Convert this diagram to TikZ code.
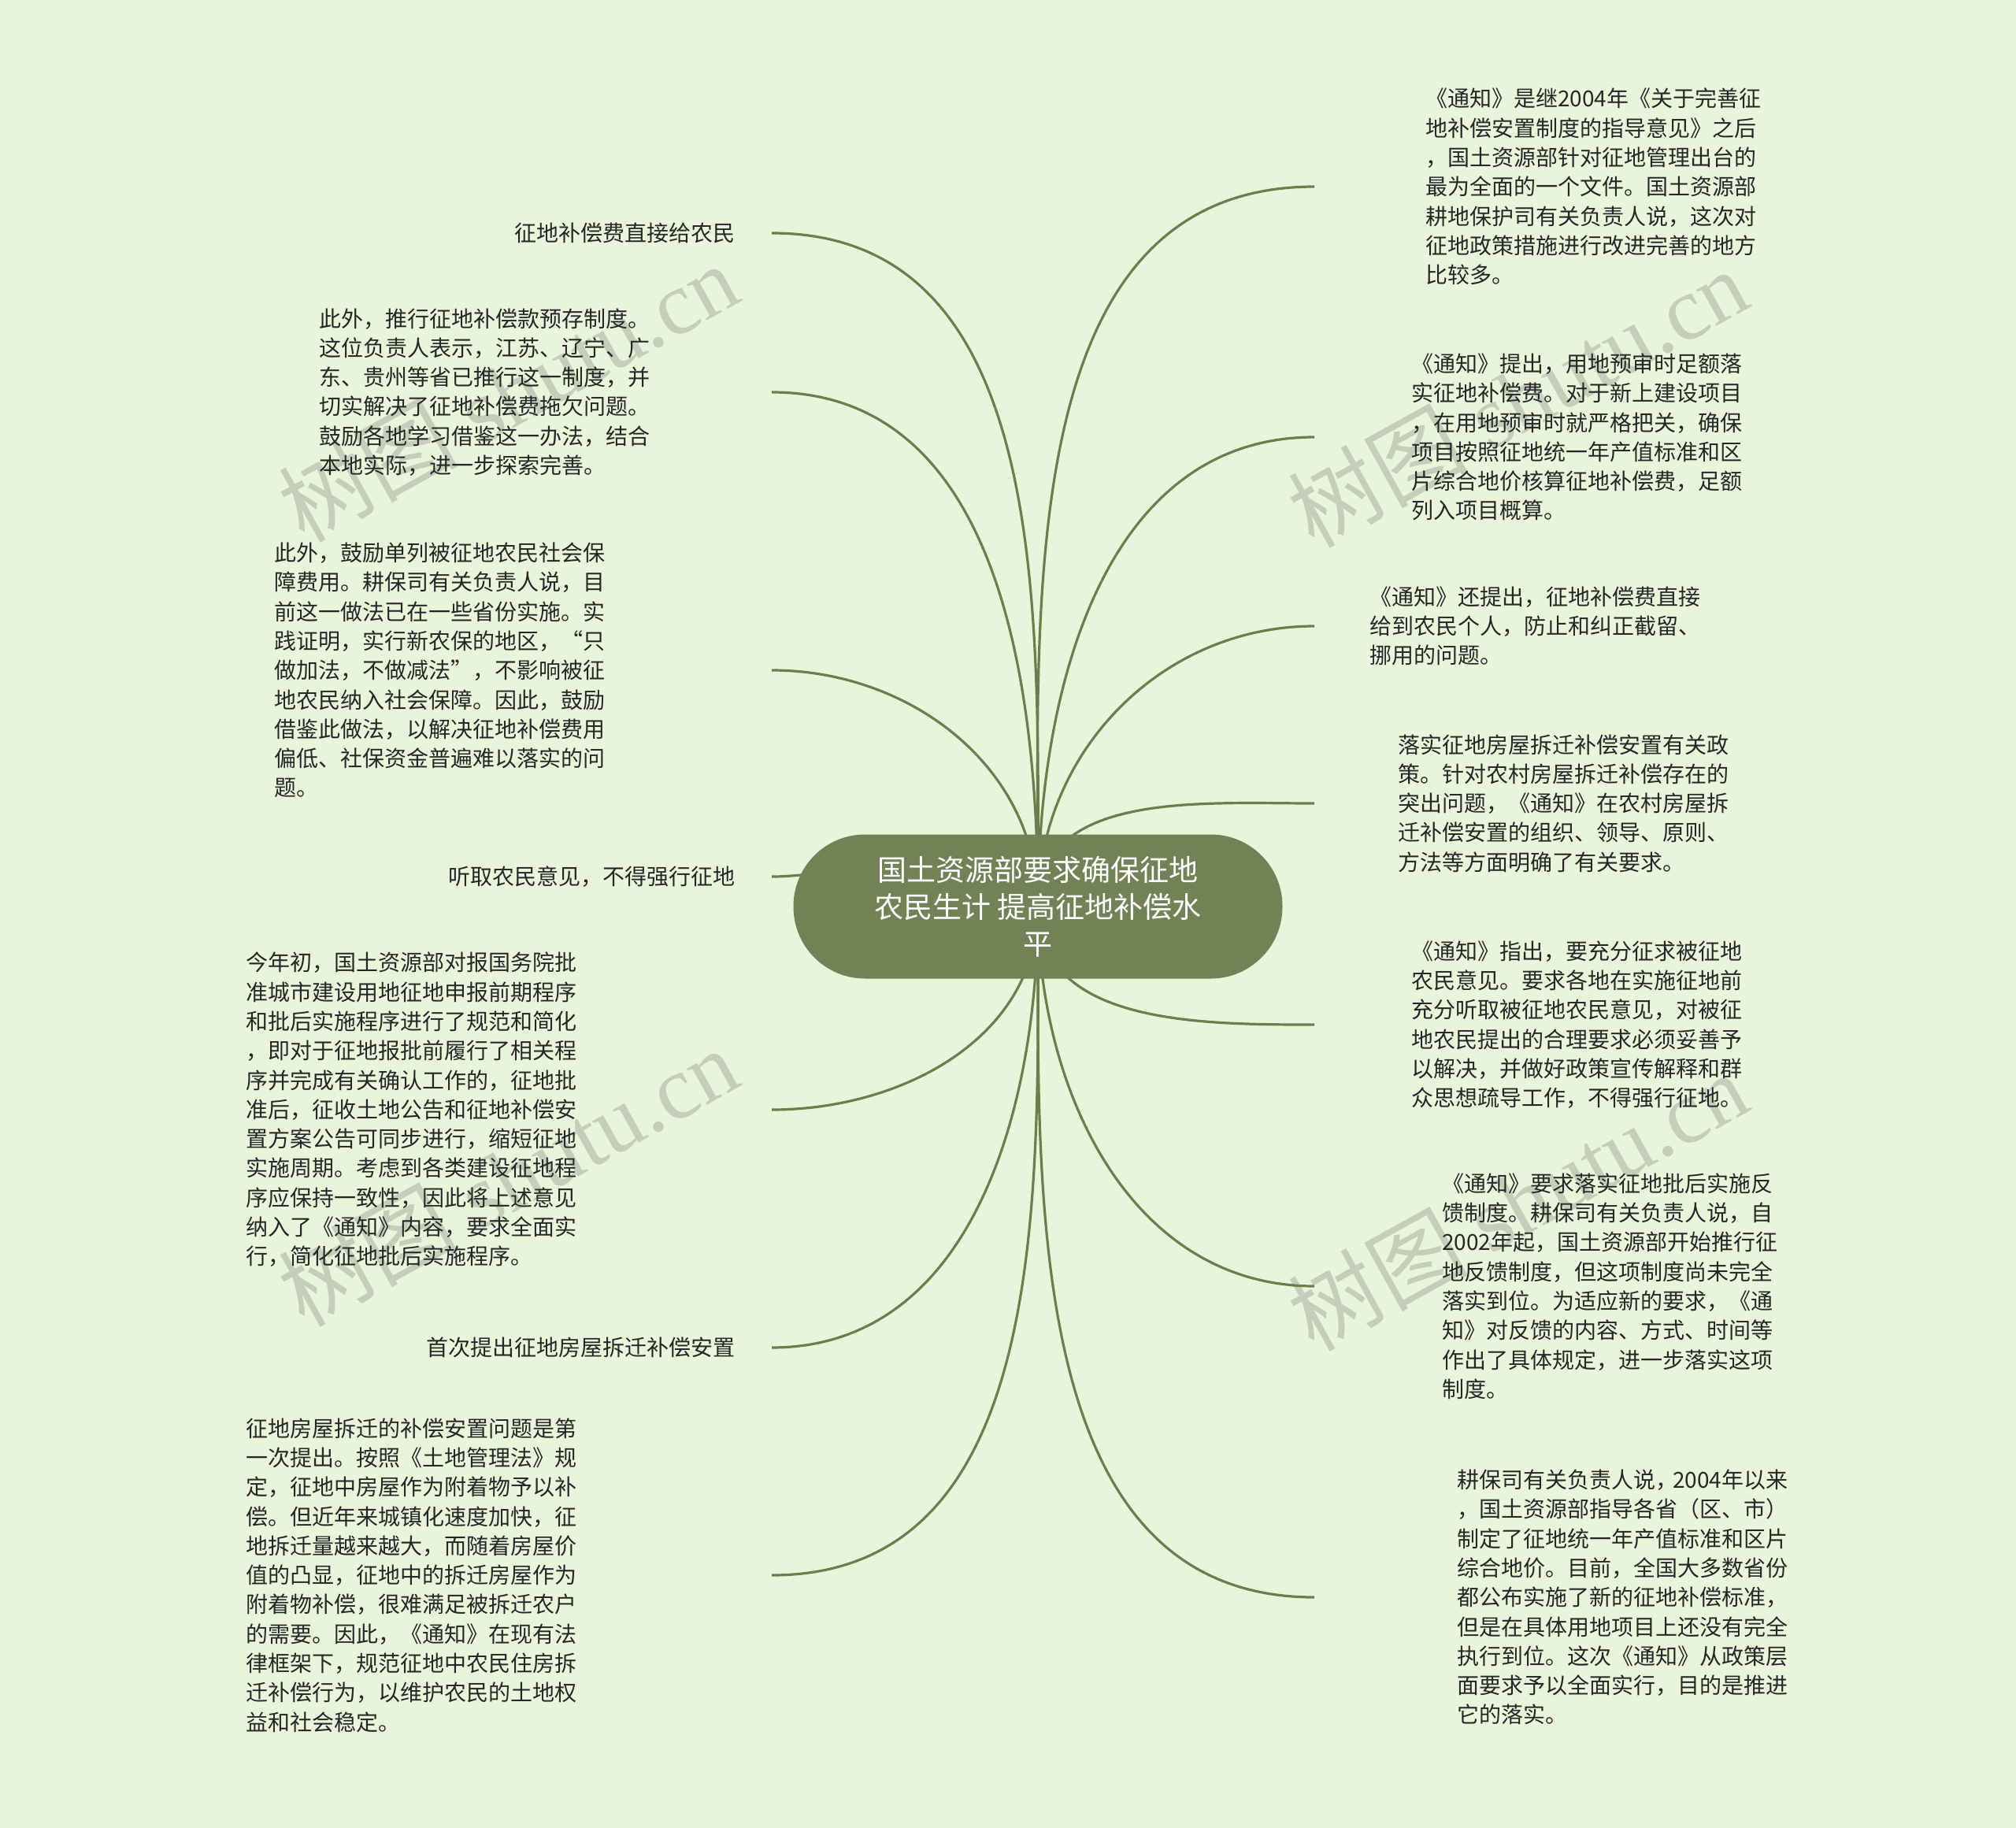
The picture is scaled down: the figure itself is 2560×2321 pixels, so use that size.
\documentclass[tikz,border=0pt]{standalone}
\usepackage{fontspec}
\usepackage{tikz}
\usetikzlibrary{positioning}
\usetikzlibrary{backgrounds}
\newfontfamily\cjk{Noto Sans CJK SC}
\newfontfamily\wmlatin{Liberation Serif}
\definecolor{paper}{RGB}{233,245,219}
\definecolor{olive}{RGB}{115,130,86}
\definecolor{twig}{RGB}{110,125,78}
\definecolor{ink}{RGB}{38,38,38}
\definecolor{wmgray}{RGB}{196,206,186}
\tikzset{
  % common styles for the map
  branch/.style={draw=twig, line width=3.2pt},
  leaf/.style={inner sep=0pt, text=ink, align=left, font=\cjk\fontsize{28}{37.3}\selectfont},
  wmark/.style={text=wmgray, rotate=29, inner sep=0pt, font=\wmlatin\fontsize{114}{114}\selectfont}
}
\begin{document}
\begin{tikzpicture}[x=1pt, y=-1pt]
    % Define styles
    \tikzstyle{root} = [rectangle, fill=olive, rounded corners=91pt, minimum width=621pt, minimum height=183pt, text=white, align=center, font=\cjk\fontsize{37}{47}\selectfont]
    \tikzstyle{leftleaf} = [leaf, anchor=east]
    \tikzstyle{blockleaf} = [leaf, anchor=west]

    % Paper and watermarks
    \begin{scope}[on background layer]
      \fill[paper] (0,0) rectangle (2560,2321);
      \node[wmark] (wm1) at (645,498) {{\cjk 树图} shutu.cn};
      \node[wmark] (wm2) at (1927,505) {{\cjk 树图} shutu.cn};
      \node[wmark] (wm3) at (645,1494) {{\cjk 树图} shutu.cn};
      \node[wmark] (wm4) at (1927,1525) {{\cjk 树图} shutu.cn};
    \end{scope}

    % Place nodes
    \node[root] (root) at (1318,1151) {国土资源部要求确保征地\\农民生计 提高征地补偿水\\平};
    \coordinate (lcol) at (980,0);
    \coordinate (rcol) at (1669,0);

    % left side
    \node[leftleaf] (l1) at (934,296) {征地补偿费直接给农民};
    \node[blockleaf] (l2) at (405,498) {此外，推行征地补偿款预存制度。\\这位负责人表示，江苏、辽宁、广\\东、贵州等省已推行这一制度，并\\切实解决了征地补偿费拖欠问题。\\鼓励各地学习借鉴这一办法，结合\\本地实际，进一步探索完善。};
    \node[blockleaf] (l3) at (348,851) {此外，鼓励单列被征地农民社会保\\障费用。耕保司有关负责人说，目\\前这一做法已在一些省份实施。实\\践证明，实行新农保的地区，“只\\做加法，不做减法”，不影响被征\\地农民纳入社会保障。因此，鼓励\\借鉴此做法，以解决征地补偿费用\\偏低、社保资金普遍难以落实的问\\题。};
    \node[leftleaf] (l4) at (934,1113) {听取农民意见，不得强行征地};
    \node[blockleaf] (l5) at (312,1409) {今年初，国土资源部对报国务院批\\准城市建设用地征地申报前期程序\\和批后实施程序进行了规范和简化\\，即对于征地报批前履行了相关程\\序并完成有关确认工作的，征地批\\准后，征收土地公告和征地补偿安\\置方案公告可同步进行，缩短征地\\实施周期。考虑到各类建设征地程\\序应保持一致性，因此将上述意见\\纳入了《通知》内容，要求全面实\\行，简化征地批后实施程序。};
    \node[leftleaf] (l6) at (934,1711) {首次提出征地房屋拆迁补偿安置};
    \node[blockleaf] (l7) at (312,2000) {征地房屋拆迁的补偿安置问题是第\\一次提出。按照《土地管理法》规\\定，征地中房屋作为附着物予以补\\偿。但近年来城镇化速度加快，征\\地拆迁量越来越大，而随着房屋价\\值的凸显，征地中的拆迁房屋作为\\附着物补偿，很难满足被拆迁农户\\的需要。因此，《通知》在现有法\\律框架下，规范征地中农民住房拆\\迁补偿行为，以维护农民的土地权\\益和社会稳定。};

    % right side
    \node[blockleaf] (r1) at (1810,237) {《通知》是继2004年《关于完善征\\地补偿安置制度的指导意见》之后\\，国土资源部针对征地管理出台的\\最为全面的一个文件。国土资源部\\耕地保护司有关负责人说，这次对\\征地政策措施进行改进完善的地方\\比较多。};
    \node[blockleaf] (r2) at (1792,555) {《通知》提出，用地预审时足额落\\实征地补偿费。对于新上建设项目\\，在用地预审时就严格把关，确保\\项目按照征地统一年产值标准和区\\片综合地价核算征地补偿费，足额\\列入项目概算。};
    \node[blockleaf] (r3) at (1739,795) {《通知》还提出，征地补偿费直接\\给到农民个人，防止和纠正截留、\\挪用的问题。};
    \node[blockleaf] (r4) at (1775,1020) {落实征地房屋拆迁补偿安置有关政\\策。针对农村房屋拆迁补偿存在的\\突出问题，《通知》在农村房屋拆\\迁补偿安置的组织、领导、原则、\\方法等方面明确了有关要求。};
    \node[blockleaf] (r5) at (1792,1301) {《通知》指出，要充分征求被征地\\农民意见。要求各地在实施征地前\\充分听取被征地农民意见，对被征\\地农民提出的合理要求必须妥善予\\以解决，并做好政策宣传解释和群\\众思想疏导工作，不得强行征地。};
    \node[blockleaf] (r6) at (1831,1633) {《通知》要求落实征地批后实施反\\馈制度。耕保司有关负责人说，自\\2002年起，国土资源部开始推行征\\地反馈制度，但这项制度尚未完全\\落实到位。为适应新的要求，《通\\知》对反馈的内容、方式、时间等\\作出了具体规定，进一步落实这项\\制度。};
    \node[blockleaf] (r7) at (1850,2028) {耕保司有关负责人说，\kern-6pt 2004年以来\\，国土资源部指导各省（区、市）\\制定了征地统一年产值标准和区片\\综合地价。目前，全国大多数省份\\都公布实施了新的征地补偿标准，\\但是在具体用地项目上还没有完全\\执行到位。这次《通知》从政策层\\面要求予以全面实行，目的是推进\\它的落实。};

    % Draw edges
    \begin{scope}[on background layer]
      \foreach \n in {l1,l2,l3,l4}
        \draw[branch] (root.center) to[out=90, in=0] (\n -| lcol);
      \foreach \n in {l5,l6,l7}
        \draw[branch] (root.center) to[out=-90, in=0] (\n -| lcol);
      \foreach \n in {r1,r2,r3,r4}
        \draw[branch] (root.center) to[out=90, in=180] (\n -| rcol);
      \foreach \n in {r5,r6,r7}
        \draw[branch] (root.center) to[out=-90, in=180] (\n -| rcol);
    \end{scope}

\end{tikzpicture}
\end{document}
